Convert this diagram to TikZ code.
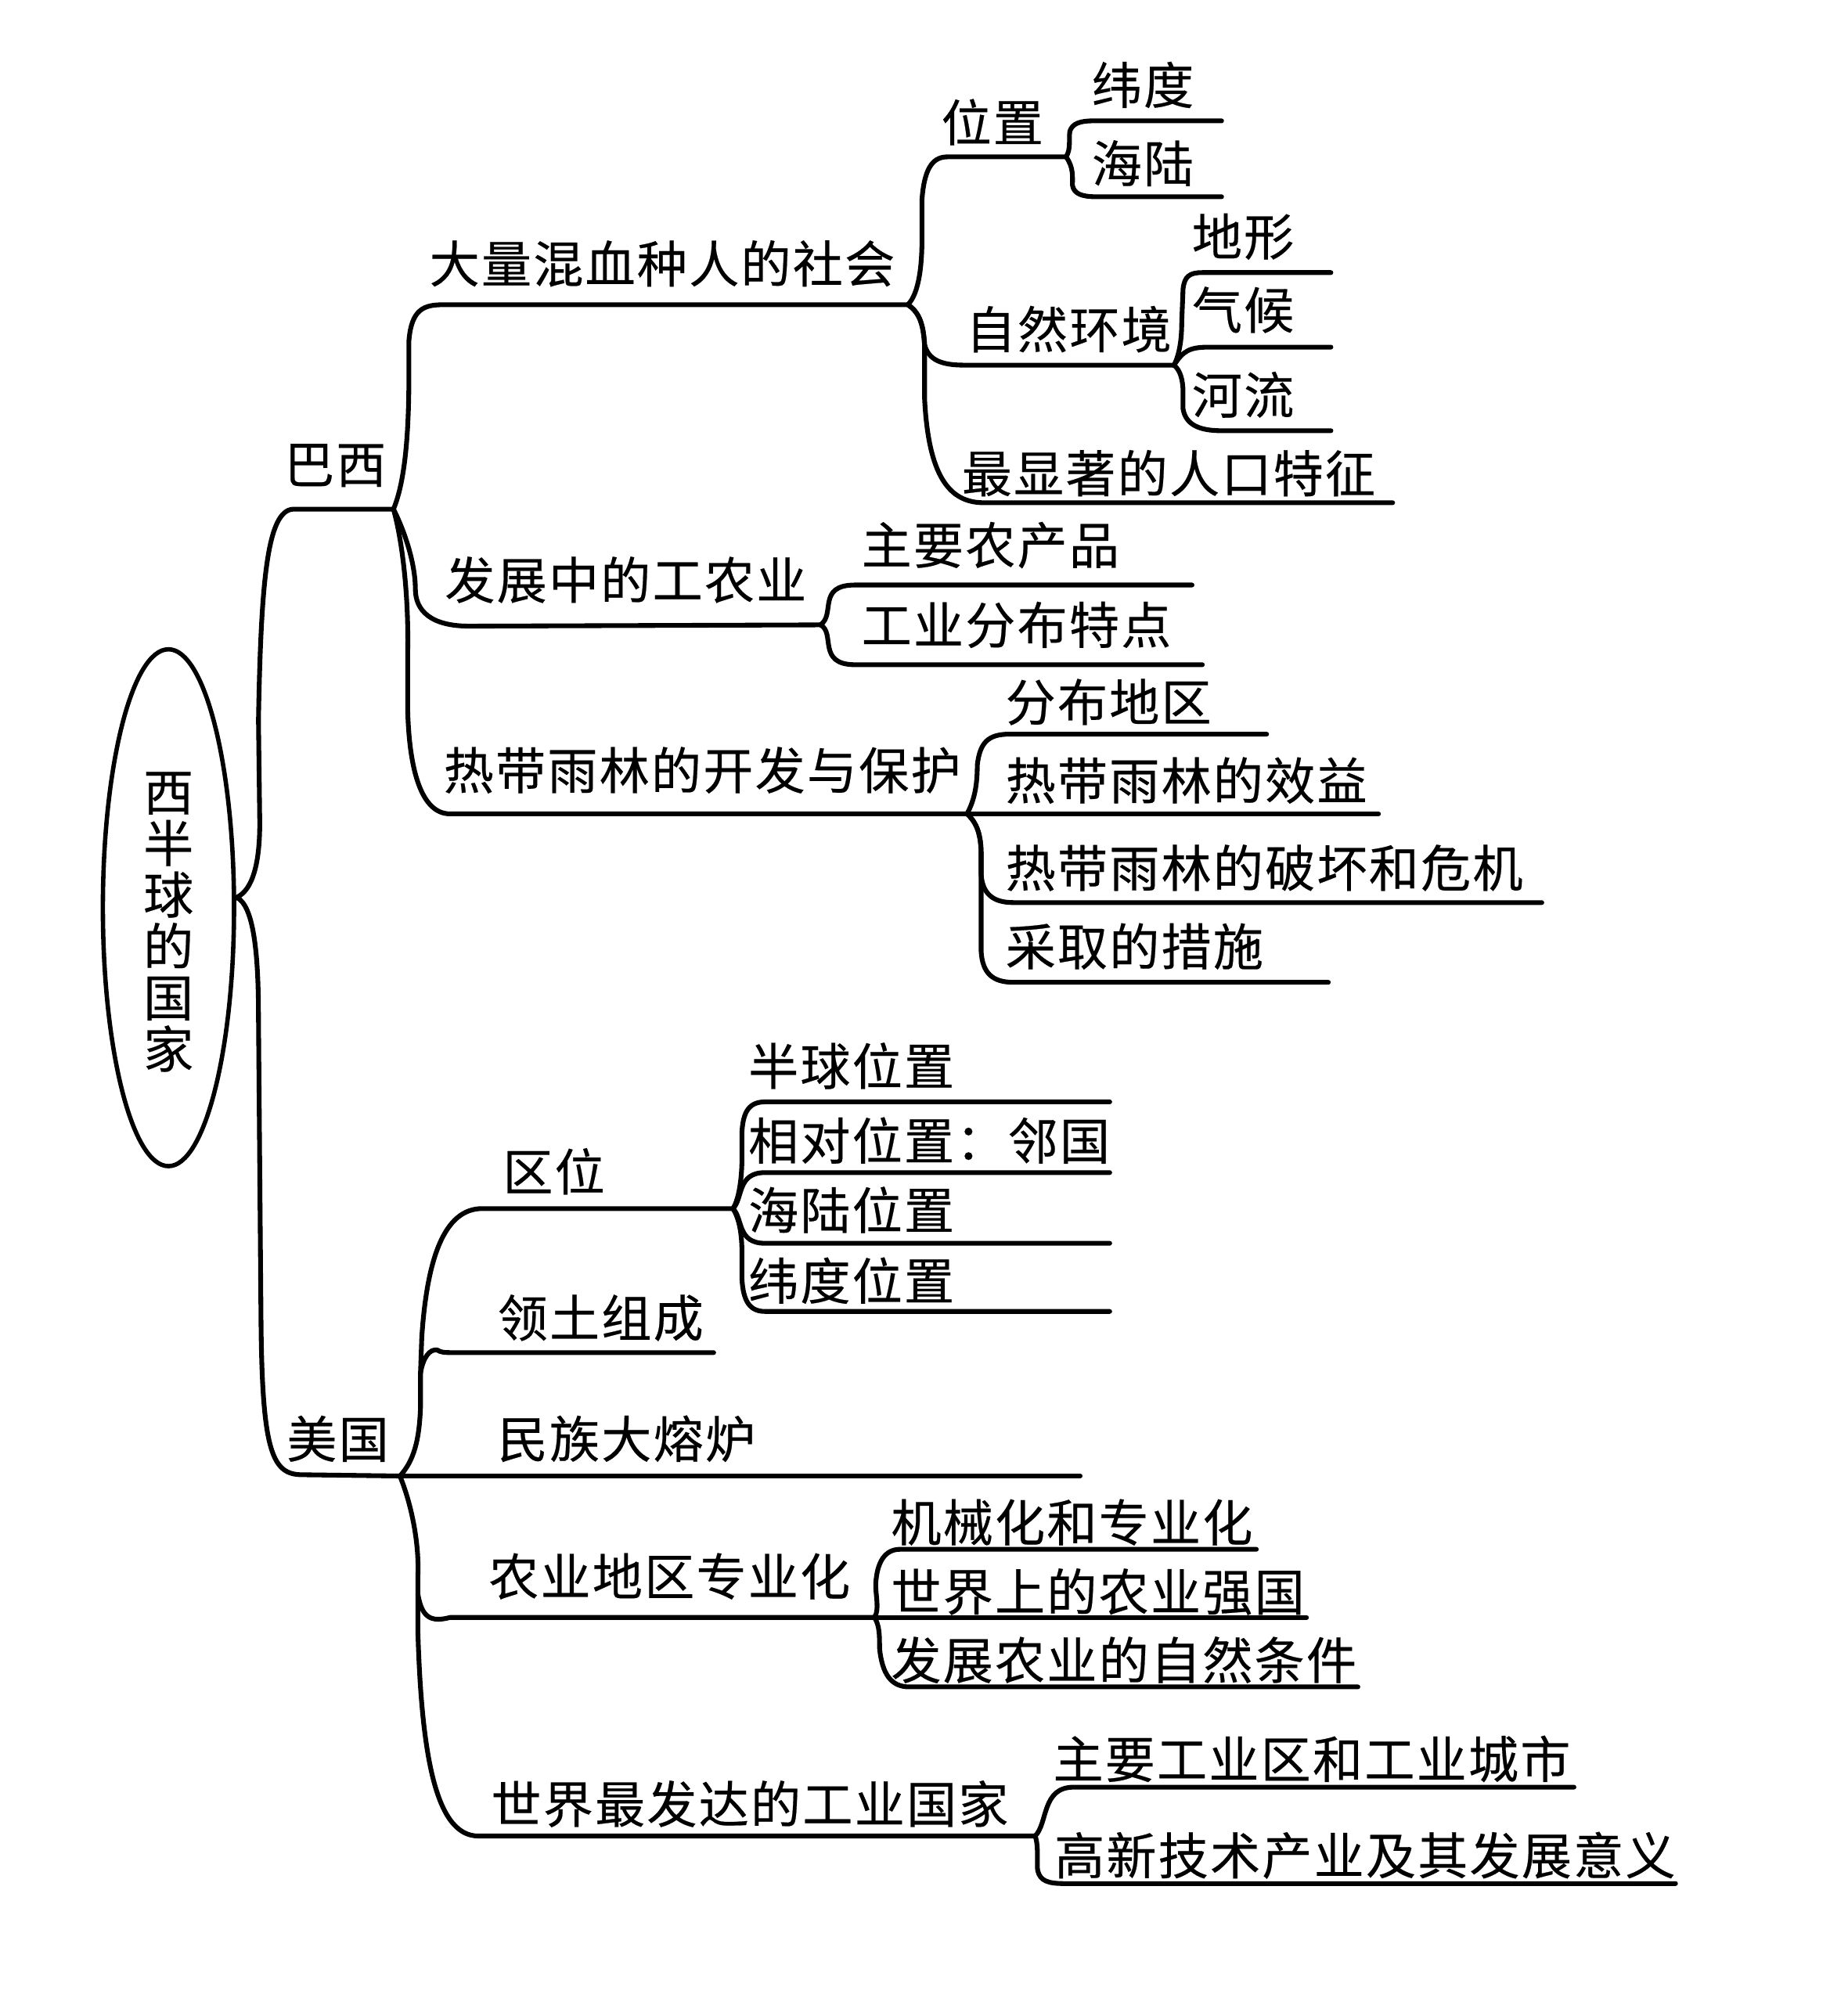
\documentclass[tikz,border=0pt]{standalone}
\usepackage{fontspec}
\usetikzlibrary{shapes.geometric}
\newfontfamily\cjk[LetterSpace=3.5,FakeBold=0.35]{Noto Sans CJK SC}
\tikzset{
  lbl/.style={anchor=west,inner sep=0pt,outer sep=0pt,font=\cjk\fontsize{39}{40}\selectfont},
  rootlbl/.style={inner sep=0pt,outer sep=0pt,align=center,font=\cjk\fontsize{39}{40}\selectfont},
  conn/.style={draw=black,line width=3.7pt,line cap=round,line join=round},
  rootnode/.style={ellipse,draw=black,line width=3.4pt,minimum width=102pt,minimum height=402pt,inner sep=0pt}
}
\begin{document}
\begin{tikzpicture}[x=1pt,y=-1pt]
\useasboundingbox[fill=white] (0,0) rectangle (1437,1568);
% labels
\node[rootnode] (root) at (131,706) {};
\node[rootlbl] (rootText) at (131,717) {西\\半\\球\\的\\国\\家};
\node[lbl] (bx) at (221,362) {巴西};
\node[lbl] (us) at (223,1119) {美国};
\node[lbl] (a1) at (334,205) {大量混血种人的社会};
\node[lbl] (a11) at (732,95) {位置};
\node[lbl] (a111) at (849,66) {纬度};
\node[lbl] (a112) at (849,127) {海陆};
\node[lbl] (a12) at (751,256) {自然环境};
\node[lbl] (a121) at (927,184) {地形};
\node[lbl] (a122) at (927,241) {气候};
\node[lbl] (a123) at (927,307) {河流};
\node[lbl] (a13) at (748,368) {最显著的人口特征};
\node[lbl] (a2) at (346,451) {发展中的工农业};
\node[lbl] (a21) at (670,424) {主要农产品};
\node[lbl] (a22) at (670,486) {工业分布特点};
\node[lbl] (a3) at (345,599) {热带雨林的开发与保护};
\node[lbl] (a31) at (782,546) {分布地区};
\node[lbl] (a32) at (782,607) {热带雨林的效益};
\node[lbl] (a33) at (782,675) {热带雨林的破坏和危机};
\node[lbl] (a34) at (782,736) {采取的措施};
\node[lbl] (b1) at (391,911) {区位};
\node[lbl] (b11) at (582,829) {半球位置};
\node[lbl] (b12) at (582,887) {相对位置：邻国};
\node[lbl] (b13) at (582,941) {海陆位置};
\node[lbl] (b14) at (582,996) {纬度位置};
\node[lbl] (b2) at (387,1025) {领土组成};
\node[lbl] (b3) at (387,1119) {民族大熔炉};
\node[lbl] (b4) at (380,1226) {农业地区专业化};
\node[lbl] (b41) at (693,1184) {机械化和专业化};
\node[lbl] (b42) at (693,1238) {世界上的农业强国};
\node[lbl] (b43) at (693,1291) {发展农业的自然条件};
\node[lbl] (b5) at (382,1403) {世界最发达的工业国家};
\node[lbl] (b51) at (819,1368) {主要工业区和工业城市};
\node[lbl] (b52) at (820,1443) {高新技术产业及其发展意义};
% junctions and free ends
\coordinate (rootJ) at (184,698);
\coordinate (bxJ) at (306,396);
\coordinate (usJ) at (311,1148);
\coordinate (j1) at (706,237);
\coordinate (j11) at (829,122);
\coordinate (j12) at (913,284);
\coordinate (j2) at (638,486);
\coordinate (j3) at (752,633);
\coordinate (j5) at (570,940);
\coordinate (t1) at (327,1068);
\coordinate (t2) at (325,1240);
\coordinate (j6) at (680,1258);
\coordinate (j7) at (805,1428);
\coordinate (e111) at (950,94);
\coordinate (e112) at (950,153);
\coordinate (e121) at (1035,212);
\coordinate (e122) at (1035,270);
\coordinate (e123) at (1035,335);
\coordinate (e13) at (1083,391);
\coordinate (e21) at (927,455);
\coordinate (e22) at (935,517);
\coordinate (e31) at (985,571);
\coordinate (e32) at (1072,633);
\coordinate (e33) at (1199,702);
\coordinate (e34) at (1033,764);
\coordinate (e11) at (863,857);
\coordinate (e12) at (863,912);
\coordinate (e14) at (863,967);
\coordinate (e15) at (863,1020);
\coordinate (eb2) at (555,1052);
\coordinate (eb3) at (840,1148);
\coordinate (e41) at (977,1205);
\coordinate (e42) at (1016,1258);
\coordinate (e43) at (1056,1312);
\coordinate (e51) at (1224,1390);
\coordinate (e52) at (1303,1465);
% connectors
\draw[conn] (rootJ) .. controls (197,692) and (202,670) .. (202,640) -- (201,560) .. controls (203,450) and (208,397) .. (228,396) -- (bxJ);
\draw[conn] (rootJ) .. controls (197,704) and (201,740) .. (201,790) -- (203,1030) .. controls (204,1130) and (212,1147) .. (235,1147) -- (usJ);
\draw[conn] (bxJ) .. controls (316,372) and (318,330) .. (318,290) -- (318,265) .. controls (320,240) and (330,237) .. (345,237) -- (j1);
\draw[conn] (j1) .. controls (715,228) and (717,205) .. (717,185) -- (717,155) .. controls (719,128) and (727,122) .. (737,122) -- (j11);
\draw[conn] (j11) .. controls (833,116) and (831,108) .. (832,102) .. controls (834,96) and (840,94) .. (850,94) -- (e111);
\draw[conn] (j11) .. controls (835,130) and (834,138) .. (834,144) .. controls (835,151) and (842,153) .. (852,153) -- (e112);
\draw[conn] (j1) .. controls (715,243) and (718,252) .. (719,268) .. controls (722,280) and (732,284) .. (750,284) -- (j12);
\draw[conn] (j12) .. controls (917,276) and (919,265) .. (919,250) -- (920,225) .. controls (921,215) and (925,212) .. (935,212) -- (e121);
\draw[conn] (j12) .. controls (920,273) and (925,270) .. (940,270) -- (e122);
\draw[conn] (j12) .. controls (918,288) and (920,296) .. (920,305) -- (920,318) .. controls (922,330) and (932,335) .. (950,335) -- (e123);
\draw[conn] (j1) .. controls (715,243) and (718,252) .. (719,268) -- (719,310) .. controls (722,370) and (738,391) .. (765,391) -- (e13);
\draw[conn] (bxJ) .. controls (316,416) and (323,440) .. (323,458) .. controls (323,475) and (335,487) .. (365,487) -- (j2);
\draw[conn] (j2) .. controls (650,478) and (635,455) .. (665,455) -- (e21);
\draw[conn] (j2) .. controls (650,492) and (635,517) .. (665,517) -- (e22);
\draw[conn] (bxJ) .. controls (314,425) and (318,470) .. (317,510) -- (317,550) .. controls (318,600) and (328,633) .. (350,633) -- (j3);
\draw[conn] (j3) .. controls (758,622) and (760,610) .. (760,595) .. controls (762,578) and (768,571) .. (785,571) -- (e31);
\draw[conn] (j3) -- (e32);
\draw[conn] (j3) .. controls (760,640) and (763,650) .. (763,665) -- (763,680) .. controls (764,695) and (772,702) .. (788,702) -- (e33);
\draw[conn] (j3) .. controls (760,640) and (763,650) .. (763,665) -- (763,740) .. controls (764,757) and (772,764) .. (788,764) -- (e34);
\draw[conn] (usJ) .. controls (322,1136) and (326,1120) .. (327,1095) -- (t1) -- (328,1040) .. controls (332,980) and (345,940) .. (375,940) -- (j5);
\draw[conn] (t1) .. controls (329,1056) and (334,1049) .. (340,1050) .. controls (343,1052) and (346,1052) .. (352,1052) -- (eb2);
\draw[conn] (usJ) -- (eb3);
\draw[conn] (usJ) .. controls (320,1170) and (326,1200) .. (325,1225) -- (t2) .. controls (328,1258) and (335,1262) .. (350,1258) -- (j6);
\draw[conn] (t2) -- (325,1270) .. controls (328,1370) and (340,1428) .. (372,1428) -- (j7);
\draw[conn] (j6) .. controls (684,1252) and (681,1242) .. (681,1232) .. controls (682,1215) and (688,1205) .. (700,1205) -- (e41);
\draw[conn] (j6) -- (e42);
\draw[conn] (j6) .. controls (684,1264) and (684,1272) .. (684,1282) .. controls (686,1302) and (693,1312) .. (707,1312) -- (e43);
\draw[conn] (j7) .. controls (815,1418) and (810,1390) .. (835,1390) -- (e51);
\draw[conn] (j7) .. controls (808,1436) and (806,1450) .. (807,1455) .. controls (809,1463) and (815,1465) .. (828,1465) -- (e52);
\draw[conn] (j5) .. controls (575,932) and (577,915) .. (577,900) -- (577,880) .. controls (578,864) and (583,857) .. (595,857) -- (e11);
\draw[conn] (j5) .. controls (578,932) and (573,912) .. (595,912) -- (e12);
\draw[conn] (j5) .. controls (578,948) and (573,967) .. (595,967) -- (e14);
\draw[conn] (j5) .. controls (575,948) and (577,960) .. (577,975) -- (577,995) .. controls (578,1012) and (583,1020) .. (595,1020) -- (e15);
\end{tikzpicture}
\end{document}
